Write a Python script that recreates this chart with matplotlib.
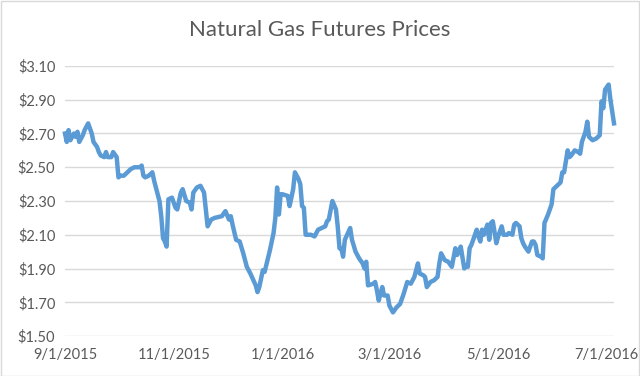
import matplotlib
matplotlib.use("Agg")
import matplotlib.pyplot as plt
import matplotlib.dates as mdates
from matplotlib.patches import Rectangle
import pandas as pd

# Natural gas front-month futures
dates = [
    "2015-09-01", "2015-09-02", "2015-09-03", "2015-09-04", "2015-09-05", "2015-09-06",
    "2015-09-07", "2015-09-08", "2015-09-09", "2015-09-11", "2015-09-12", "2015-09-14",
    "2015-09-16", "2015-09-17", "2015-09-19", "2015-09-20", "2015-09-21", "2015-09-23",
    "2015-09-24", "2015-09-25", "2015-09-27", "2015-09-28", "2015-09-30", "2015-10-01",
    "2015-10-02", "2015-10-04", "2015-10-06", "2015-10-08", "2015-10-10", "2015-10-13",
    "2015-10-14", "2015-10-15", "2015-10-16", "2015-10-18", "2015-10-20", "2015-10-21",
    "2015-10-22", "2015-10-24", "2015-10-25", "2015-10-26", "2015-10-27", "2015-10-28",
    "2015-10-29", "2015-10-31", "2015-11-02", "2015-11-03", "2015-11-05", "2015-11-06",
    "2015-11-08", "2015-11-10", "2015-11-11", "2015-11-12", "2015-11-14", "2015-11-16",
    "2015-11-18", "2015-11-20", "2015-11-22", "2015-11-24", "2015-11-28", "2015-11-30",
    "2015-12-02", "2015-12-03", "2015-12-04", "2015-12-06", "2015-12-08", "2015-12-10",
    "2015-12-12", "2015-12-14", "2015-12-17", "2015-12-18", "2015-12-19", "2015-12-21",
    "2015-12-22", "2015-12-25", "2015-12-27", "2015-12-28", "2015-12-29", "2015-12-30",
    "2015-12-31", "2016-01-01", "2016-01-04", "2016-01-05", "2016-01-07", "2016-01-08",
    "2016-01-10", "2016-01-11", "2016-01-12", "2016-01-13", "2016-01-14", "2016-01-17",
    "2016-01-19", "2016-01-21", "2016-01-23", "2016-01-25", "2016-01-26", "2016-01-27",
    "2016-01-29", "2016-01-31", "2016-02-01", "2016-02-02", "2016-02-03", "2016-02-04",
    "2016-02-05", "2016-02-08", "2016-02-09", "2016-02-11", "2016-02-13", "2016-02-15",
    "2016-02-16", "2016-02-17", "2016-02-18", "2016-02-21", "2016-02-22", "2016-02-23",
    "2016-02-24", "2016-02-26", "2016-02-27", "2016-02-29", "2016-03-01", "2016-03-03",
    "2016-03-05", "2016-03-07", "2016-03-09", "2016-03-11", "2016-03-13", "2016-03-15",
    "2016-03-17", "2016-03-18", "2016-03-20", "2016-03-21", "2016-03-22", "2016-03-24",
    "2016-03-26", "2016-03-28", "2016-03-29", "2016-03-30", "2016-04-01", "2016-04-03",
    "2016-04-05", "2016-04-07", "2016-04-08", "2016-04-10", "2016-04-12", "2016-04-13",
    "2016-04-14", "2016-04-15", "2016-04-16", "2016-04-17", "2016-04-19", "2016-04-20",
    "2016-04-21", "2016-04-22", "2016-04-23", "2016-04-25", "2016-04-26", "2016-04-27",
    "2016-04-28", "2016-04-30", "2016-05-01", "2016-05-03", "2016-05-04", "2016-05-06",
    "2016-05-07", "2016-05-09", "2016-05-10", "2016-05-11", "2016-05-13", "2016-05-14",
    "2016-05-15", "2016-05-16", "2016-05-18", "2016-05-19", "2016-05-20", "2016-05-21",
    "2016-05-22", "2016-05-23", "2016-05-25", "2016-05-26", "2016-05-27", "2016-05-29",
    "2016-05-31", "2016-06-01", "2016-06-03", "2016-06-05", "2016-06-06", "2016-06-07",
    "2016-06-09", "2016-06-10", "2016-06-11", "2016-06-13", "2016-06-15", "2016-06-16",
    "2016-06-17", "2016-06-19", "2016-06-20", "2016-06-21", "2016-06-23", "2016-06-25",
    "2016-06-27", "2016-06-28", "2016-06-29", "2016-06-30", "2016-07-02", "2016-07-03",
    "2016-07-05",
]
prices = [
    2.70, 2.65, 2.72, 2.66, 2.68, 2.70,
    2.68, 2.71, 2.65, 2.69, 2.72, 2.76,
    2.70, 2.65, 2.62, 2.59, 2.57, 2.56,
    2.59, 2.56, 2.56, 2.59, 2.56, 2.44,
    2.45, 2.45, 2.47, 2.49, 2.50, 2.50,
    2.51, 2.45, 2.44, 2.45, 2.47, 2.42,
    2.38, 2.30, 2.21, 2.08, 2.06, 2.03,
    2.31, 2.32, 2.26, 2.25, 2.35, 2.37,
    2.30, 2.29, 2.25, 2.35, 2.38, 2.39,
    2.35, 2.15, 2.19, 2.20, 2.21, 2.24,
    2.19, 2.21, 2.16, 2.07, 2.06, 1.99,
    1.91, 1.87, 1.80, 1.76, 1.79, 1.89,
    1.88, 2.01, 2.11, 2.20, 2.38, 2.22,
    2.34, 2.34, 2.33, 2.27, 2.37, 2.47,
    2.43, 2.40, 2.27, 2.26, 2.10, 2.10,
    2.09, 2.13, 2.14, 2.15, 2.18, 2.19,
    2.30, 2.25, 2.15, 2.02, 2.02, 1.97,
    2.07, 2.14, 2.07, 2.00, 1.96, 1.93,
    1.90, 1.94, 1.80, 1.81, 1.82, 1.77,
    1.71, 1.79, 1.74, 1.74, 1.68, 1.64,
    1.67, 1.69, 1.75, 1.82, 1.81, 1.85,
    1.93, 1.87, 1.86, 1.85, 1.79, 1.82,
    1.83, 1.85, 1.93, 1.99, 1.95, 1.94,
    1.91, 2.02, 1.98, 2.03, 1.90, 1.92,
    1.91, 2.02, 2.04, 2.07, 2.13, 2.09,
    2.06, 2.13, 2.10, 2.16, 2.07, 2.17,
    2.18, 2.05, 2.09, 2.15, 2.10, 2.10,
    2.11, 2.10, 2.16, 2.17, 2.15, 2.08,
    2.05, 2.03, 2.00, 2.03, 2.06, 2.06,
    2.04, 1.98, 1.97, 1.96, 2.17, 2.22,
    2.28, 2.37, 2.39, 2.41, 2.47, 2.47,
    2.60, 2.56, 2.57, 2.60, 2.59, 2.58,
    2.65, 2.71, 2.77, 2.68, 2.66, 2.67,
    2.69, 2.89, 2.85, 2.96, 2.99, 2.90,
    2.76,
]
tick_dates = ["2015-09-01", "2015-11-01", "2016-01-01", "2016-03-01", "2016-05-01", "2016-07-01"]
y_ticks = [1.50, 1.70, 1.90, 2.10, 2.30, 2.50, 2.70, 2.90, 3.10]

x = pd.to_datetime(dates)
ticks = pd.to_datetime(tick_dates)

text_color = "#595959"
grid_color = "#D9D9D9"
plt.rcParams["font.family"] = ["Lato", "DejaVu Sans"]

fig = plt.figure(figsize=(6.4, 3.76), dpi=100)
ax = fig.add_axes([65 / 640, 1 - 336 / 376, 549 / 640, 270 / 376])

ax.plot(x, prices, color="#5B9BD5", lw=3.2, solid_joinstyle="round", clip_on=False, zorder=3)

ax.set_ylim(1.5, 3.1)
ax.set_yticks(y_ticks)
ax.set_yticklabels([f"${v:.2f}" for v in y_ticks])
ax.set_xlim(pd.Timestamp("2015-09-01"), pd.Timestamp("2016-07-05"))
ax.set_xticks(ticks)
ax.set_xticklabels([f"{d.month}/{d.day}/{d.year}" for d in ticks])

ax.grid(True, axis="y", color=grid_color, lw=1)
ax.set_axisbelow(True)
for s in ax.spines.values():
    s.set_visible(False)
ax.tick_params(length=0, colors=text_color, labelsize=10.5)
ax.tick_params(axis="y", pad=7)
ax.tick_params(axis="x", pad=9)

fig.text(0.5, 1 - 30 / 376, "Natural Gas Futures Prices", ha="center", va="center",
         fontsize=16, color=text_color)

# light chart border like the Excel chart area
fig.patches.append(Rectangle((0.5 / 640, 0.5 / 376), 1 - 1.5 / 640, 1 - 1.5 / 376,
                             transform=fig.transFigure, fill=False, ec=grid_color, lw=1))

fig.savefig("out.png", dpi=100)
